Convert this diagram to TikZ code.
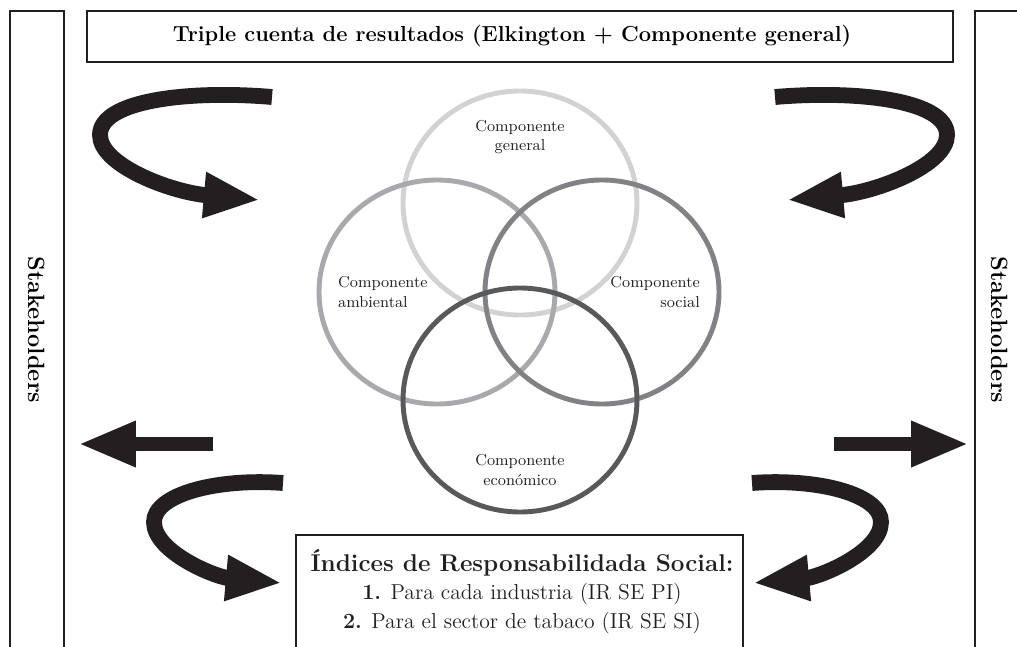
\documentclass[tikz,border=0pt]{standalone}
\usetikzlibrary{arrows.meta}
\definecolor{tinta}{HTML}{231F20}
\definecolor{grisA}{HTML}{D1D2D4}
\definecolor{grisB}{HTML}{A7A9AC}
\definecolor{grisC}{HTML}{808285}
\definecolor{grisD}{HTML}{58595B}
\begin{document}
\begin{tikzpicture}[x=0.02cm,y=-0.02cm,
    caja/.style={draw=tinta,line width=1.1pt},
    anillo/.style={line width=2.8pt},
    etiqueta/.style={font=\fontsize{9}{11.3}\selectfont},
    flecha/.style={tinta,line width=9pt,-{Triangle[length=32pt,width=24pt]}},
    recta/.style={tinta,line width=8.5pt,-{Triangle[length=33pt,width=24pt]}}]
    \useasboundingbox (0,0) rectangle (1017,646);
    \clip (0,0) rectangle (1017,646);

    % Stakeholders, both sides
    \draw[caja] (10,11) rectangle (64,700);
    \draw[caja] (975,11) rectangle (1029,700);
    \node[rotate=-90,font=\fontsize{13.4}{15}\selectfont\bfseries] (stakeizq) at (37,330) {Stakeholders};
    \node[rotate=-90,font=\fontsize{13.4}{15}\selectfont\bfseries] (stakeder) at (1000,330) {Stakeholders};

    % Title box
    \draw[caja] (87,11) rectangle (953,62);
    \node[font=\fontsize{12.4}{15}\selectfont\bfseries] (titulo) at (512,36.5) {Triple cuenta de resultados (Elkington + Componente general)};

    % The four components
    \draw[anillo,grisA] (520,203) ellipse (117 and 112);
    \draw[anillo,grisB] (437,292) ellipse (118 and 112);
    \draw[anillo,grisC] (602,292) ellipse (117 and 112);
    \draw[anillo,grisD] (520,400) ellipse (117 and 112);

    \node[etiqueta,align=center,text=tinta] (general) at (520,137) {Componente\\general};
    \node[etiqueta,align=left,anchor=west,text=tinta] (ambiental) at (332,292) {Componente\\ambiental};
    \node[etiqueta,align=right,anchor=east,text=tinta] (social) at (706,292) {Componente\\social};
    \node[etiqueta,align=center,text=tinta] (economico) at (520,470) {Componente\\econ\'omico};

    % Bottom box with the indices
    \draw[caja] (296,535) rectangle (743,700);
    \node[align=center,anchor=north,font=\fontsize{12.3}{16.2}\selectfont,text=tinta] (indices) at (522,543)
        {{\fontsize{13.8}{16.2}\selectfont\bfseries \'Indices de Responsabilidada Social:}\\
         \textbf{1.} Para cada industria (IR SE PI)\\
         \textbf{2.} Para el sector de tabaco (IR SE SI)};

    % Curved arrows
    \draw[flecha] (272,97) .. controls (190,90) and (100,100) .. (100,135)
        .. controls (100,165) and (170,192) .. (260,200);
    \draw[flecha] (775,97) .. controls (857,90) and (947,100) .. (947,135)
        .. controls (947,165) and (877,192) .. (787,200);
    \draw[flecha] (283,483) .. controls (215,478) and (154,495) .. (154,522)
        .. controls (154,552) and (215,577) .. (282,583);
    \draw[flecha] (752,483) .. controls (820,478) and (881,495) .. (881,522)
        .. controls (881,552) and (820,577) .. (753,583);

    % Straight arrows towards the stakeholders
    \draw[recta] (213,444) -- (78,444);
    \draw[recta] (834,444) -- (969,444);
\end{tikzpicture}
\end{document}
